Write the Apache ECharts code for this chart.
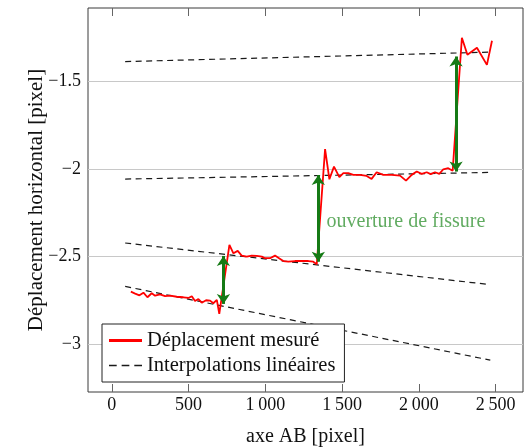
<!DOCTYPE html>
<html>
<head>
<meta charset="utf-8">
<script src="https://cdn.jsdelivr.net/npm/echarts@6/dist/echarts.min.js"></script>
<style>
  html, body { margin: 0; padding: 0; background: #fff; }
  #chart { width: 524px; height: 448px; }
</style>
</head>
<body>
<div id="chart"></div>
<script>
// Measured displacement (red line)
const measX = [124, 152, 180, 206, 232, 260, 282, 314, 347, 380, 423, 466, 499, 521, 542, 564, 586, 614, 640, 661, 684, 700,
    766, 792, 820, 846, 879, 911, 944, 977, 998, 1031, 1063, 1089, 1117, 1150, 1193, 1237, 1280, 1312, 1335,
    1389, 1417, 1447, 1482, 1508, 1540, 1573, 1616, 1660, 1692, 1725, 1768, 1823, 1877, 1916, 1953, 1986, 2018, 2051, 2077, 2105, 2133, 2159, 2191, 2220, 2228,
    2280, 2316, 2378, 2443, 2476];
const measY = [-2.700, -2.711, -2.721, -2.706, -2.732, -2.709, -2.723, -2.715, -2.725, -2.723, -2.729, -2.732, -2.736, -2.726, -2.753, -2.742, -2.763, -2.749, -2.751, -2.766, -2.747, -2.827,
    -2.433, -2.481, -2.467, -2.494, -2.500, -2.494, -2.496, -2.500, -2.509, -2.509, -2.494, -2.509, -2.525, -2.529, -2.525, -2.525, -2.525, -2.529, -2.543,
    -1.886, -2.058, -1.986, -2.046, -2.023, -2.023, -2.033, -2.033, -2.039, -2.056, -2.018, -2.033, -2.033, -2.037, -2.066, -2.033, -2.014, -2.027, -2.018, -2.029, -2.018, -2.027, -2.001, -1.995, -2.009, -2.014,
    -1.250, -1.347, -1.307, -1.405, -1.267];

// Linear interpolations (dashed lines), start and end points
const interpX = [87, 2465];
const interp1Y = [-1.386, -1.332];
const interp2Y = [-2.057, -2.019];
const interp3Y = [-2.422, -2.660];
const interp4Y = [-2.670, -3.091];

// Crack opening arrows: x, top, bottom
const arrowX = [727, 1345, 2242];
const arrowTop = [-2.496, -2.034, -1.357];
const arrowBottom = [-2.770, -2.529, -2.014];

// Annotation
const noteX = [1395];
const noteY = [-2.30];
const noteText = ['ouverture de fissure'];

// Ticks
const xTicks = [0, 500, 1000, 1500, 2000, 2500];
const yTicks = [-3, -2.5, -2, -1.5];

const FONT = '"Liberation Serif", "Times New Roman", serif';

const pairs = (xs, ys) => xs.map((x, i) => [x, ys[i]]);

const dashedSeries = [interp1Y, interp2Y, interp3Y, interp4Y].map(ys => ({
    name: 'Interpolations linéaires',
    type: 'line',
    data: pairs(interpX, ys),
    symbol: 'none',
    z: 3,
    lineStyle: { color: '#1a1a1a', width: 1.2, type: [6, 4.5] },
    itemStyle: { color: '#1a1a1a' }
}));

const chart = echarts.init(document.getElementById('chart'));

const option = {
    backgroundColor: '#fff',
    animation: false,
    grid: {
        left: 88, right: 1, top: 8, bottom: 56,
        outerBoundsMode: 'none',
        containLabel: false,
        show: true, borderColor: '#3a3a3a', borderWidth: 1, backgroundColor: 'transparent'
    },
    legend: {
        orient: 'vertical',
        left: 102, top: 324,
        padding: [6, 9, 6, 7],
        itemGap: 4,
        itemWidth: 33,
        itemHeight: 14,
        backgroundColor: '#fff',
        borderColor: '#222',
        borderWidth: 1,
        borderRadius: 0,
        textStyle: { fontFamily: FONT, fontSize: 20.5, color: '#111', lineHeight: 20 },
        data: [
            { name: 'Déplacement mesuré', icon: 'path://M0,0 L33,0 L33,3 L0,3 Z', itemStyle: { color: '#ff0000' } },
            { name: 'Interpolations linéaires',
              icon: 'path://M0,0h7v1.3h-7z M11.5,0h7v1.3h-7z M23,0h7v1.3h-7z',
              itemStyle: { color: '#1a1a1a' } }
        ]
    },
    xAxis: [{
        type: 'value',
        min: -155, max: 2678,
        name: 'axe AB [pixel]',
        nameLocation: 'middle',
        nameGap: 35,
        nameMoveOverlap: false,
        nameTextStyle: { fontFamily: FONT, fontSize: 20, color: '#111' },
        axisLine: { show: false },
        axisTick: { show: true, inside: true, length: 8, customValues: xTicks, lineStyle: { color: '#666' } },
        axisLabel: {
            customValues: xTicks,
            margin: 4,
            fontFamily: FONT, fontSize: 18, color: '#111',
            formatter: v => v >= 1000 ? String(v).replace(/(\d)(\d{3})$/, '$1\u2009$2') : String(v)
        },
        splitLine: { show: false }
    }, {
        type: 'value',
        position: 'top',
        min: -155, max: 2678,
        axisLine: { show: false },
        axisTick: { show: true, inside: true, length: 8, customValues: xTicks, lineStyle: { color: '#666' } },
        axisLabel: { show: false },
        splitLine: { show: false }
    }],
    yAxis: [{
        type: 'value',
        min: -3.273, max: -1.080,
        name: 'Déplacement horizontal [pixel]',
        nameLocation: 'middle',
        nameGap: 41,
        nameMoveOverlap: false,
        nameTextStyle: { fontFamily: FONT, fontSize: 21, color: '#111' },
        axisLine: { show: false },
        axisTick: { show: false },
        axisLabel: {
            customValues: yTicks,
            margin: 7,
            fontFamily: FONT, fontSize: 18, color: '#111',
            formatter: v => String(v).replace('-', '\u2212')
        },
        splitLine: { show: false }
    }],
    series: [
        {
            name: 'Déplacement mesuré',
            type: 'line',
            data: pairs(measX, measY),
            symbol: 'none',
            z: 4,
            lineStyle: { color: '#ff0000', width: 1.8 },
            itemStyle: { color: '#ff0000' },
            // horizontal grid lines at the y ticks
            markLine: {
                silent: true,
                symbol: 'none',
                label: { show: false },
                z: 1,
                lineStyle: { color: '#c8c8c8', width: 1, type: 'solid' },
                data: yTicks.map(v => ({ yAxis: v }))
            }
        },
        ...dashedSeries,
        {
            name: 'arrows',
            type: 'line',
            data: [],
            z: 6,
            markLine: {
                silent: true,
                symbol: ['arrow', 'arrow'],
                symbolSize: [10, 10],
                label: { show: false },
                lineStyle: { color: '#157a15', width: 3, type: 'solid' },
                itemStyle: { color: '#157a15' },
                data: arrowX.map((x, i) => [{ coord: [x, arrowTop[i]] }, { coord: [x, arrowBottom[i]] }])
            }
        },
        {
            name: 'note',
            type: 'scatter',
            data: pairs(noteX, noteY),
            symbolSize: 1,
            itemStyle: { color: 'transparent' },
            z: 7,
            label: {
                show: true,
                position: 'right',
                distance: 0,
                formatter: p => noteText[p.dataIndex],
                fontFamily: FONT, fontSize: 20, color: '#3a963a'
            }
        }
    ]
};

option && chart.setOption(option);
</script>
</body>
</html>
